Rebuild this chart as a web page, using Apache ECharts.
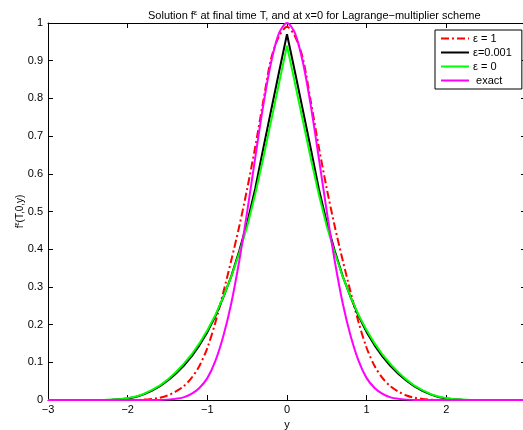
<!DOCTYPE html>
<html><head><meta charset="utf-8">
<script src="https://cdn.jsdelivr.net/npm/echarts@6/dist/echarts.min.js"></script>
<style>html,body{margin:0;padding:0;background:#fff}#c{width:523px;height:430px}</style>
</head><body><div id="c"></div>
<script>
const yGrid = [-3.0,-2.9,-2.8,-2.7,-2.6,-2.5,-2.4,-2.3,-2.2,-2.1,-2.0,-1.9,-1.8,-1.7,-1.6,-1.5,-1.4,-1.3,-1.2,-1.1,-1.0,-0.9,-0.8,-0.7,-0.6,-0.5,-0.4,-0.3,-0.2,-0.1,0,0.1,0.2,0.3,0.4,0.5,0.6,0.7,0.8,0.9,1.0,1.1,1.2,1.3,1.4,1.5,1.6,1.7,1.8,1.9,2.0,2.1,2.2,2.3,2.4,2.5,2.6,2.7,2.8,2.9,3.0];
const eps1 = [0,0,0,0,0,0,0,0,0,0,0,0,0.001,0.003,0.006,0.012,0.022,0.036,0.058,0.09,0.138,0.205,0.285,0.37,0.46,0.56,0.67,0.79,0.905,0.965,0.99,0.965,0.905,0.79,0.67,0.56,0.46,0.37,0.285,0.205,0.138,0.09,0.058,0.036,0.022,0.012,0.006,0.003,0.001,0,0,0,0,0,0,0,0,0,0,0,0];
const eps0001 = [0,0,0,0,0,0,0,0,0.0005,0.002,0.004,0.008,0.015,0.024,0.036,0.051,0.069,0.09,0.115,0.145,0.18,0.222,0.272,0.328,0.395,0.47,0.56,0.665,0.768,0.87,0.97,0.87,0.768,0.665,0.56,0.47,0.395,0.328,0.272,0.222,0.18,0.145,0.115,0.09,0.069,0.051,0.036,0.024,0.015,0.008,0.004,0.002,0.0005,0,0,0,0,0,0,0,0];
const eps0 = [0,0,0,0,0,0,0,0,0.001,0.002,0.005,0.009,0.016,0.026,0.038,0.054,0.073,0.095,0.12,0.15,0.185,0.225,0.273,0.327,0.39,0.46,0.545,0.64,0.74,0.84,0.94,0.84,0.74,0.64,0.545,0.46,0.39,0.327,0.273,0.225,0.185,0.15,0.12,0.095,0.073,0.054,0.038,0.026,0.016,0.009,0.005,0.002,0.001,0,0,0,0,0,0,0,0];
const exact = [0,0,0,0,0,0,0,0,0,0,0,0,0,0,0,0.001,0.003,0.007,0.016,0.032,0.058,0.103,0.169,0.256,0.368,0.499,0.641,0.779,0.895,0.973,1.0,0.973,0.895,0.779,0.641,0.499,0.368,0.256,0.169,0.103,0.058,0.032,0.016,0.007,0.003,0.001,0,0,0,0,0,0,0,0,0,0,0,0,0,0,0];
const seriesNames = ['ε = 1','ε=0.001','ε = 0',' exact'];

const FONT = 'Liberation Sans, Arial, Helvetica, sans-serif';
const pairs = arr => yGrid.map((x, i) => [x, arr[i]]);
const minus = v => String(v).replace('-', '\u2212');
const chart = echarts.init(document.getElementById('c'), null, {renderer: 'canvas'});
const axisCommon = {
  axisLine: {show: true, onZero: false, lineStyle: {color: '#000', width: 1}},
  axisTick: {show: true, inside: true, length: 5, lineStyle: {color: '#000'}},
  splitLine: {show: false}
};
chart.setOption({
  animation: false,
  backgroundColor: '#fff',
  textStyle: {fontFamily: FONT},
  title: {
    text: 'Solution f{s|ε} at final time T, and at x=0 for Lagrange\u2212multiplier scheme',
    left: 143, top: 4,
    textStyle: {fontSize: 11, fontWeight: 'normal', color: '#000', fontFamily: FONT,
      rich: {s: {fontSize: 8, verticalAlign: 'top', fontFamily: FONT, color: '#000', padding: [0,0,5,0]}}}
  },
  grid: {left: 48, top: 23, width: 478, height: 377, outerBoundsMode: 'none', containLabel: false},
  legend: {
    orient: 'vertical', left: 435, top: 30, width: 85,
    data: seriesNames,
    backgroundColor: '#fff', borderColor: '#000', borderWidth: 1,
    padding: [3, 10, 3, 5], itemWidth: 28, itemHeight: 12, itemGap: 3,
    itemStyle: {opacity: 0},
    textStyle: {fontSize: 11, color: '#000', fontFamily: FONT, padding: [0,0,0,-1]}
  },
  xAxis: [
    Object.assign({type: 'value', min: -3, max: 3, interval: 1, position: 'bottom',
      name: 'y', nameLocation: 'middle', nameGap: 18,
      nameTextStyle: {fontSize: 11, color: '#000', fontFamily: FONT},
      axisLabel: {fontSize: 11, color: '#000', margin: 4, formatter: minus, fontFamily: FONT,
        showMinLabel: true, showMaxLabel: true, hideOverlap: false}}, axisCommon),
    Object.assign({type: 'value', min: -3, max: 3, interval: 1, position: 'top',
      axisLabel: {show: false}}, axisCommon)
  ],
  yAxis: [
    Object.assign({type: 'value', min: 0, max: 1, interval: 0.1, position: 'left',
      name: '{a|f}{b|ε}{a|(T,0,y)}', nameLocation: 'middle', nameGap: 22, nameMoveOverlap: false,
      nameTextStyle: {color: '#000', fontFamily: FONT,
        rich: {a: {fontSize: 10, fontFamily: FONT, color: '#000'},
               b: {fontSize: 7, fontFamily: FONT, color: '#000', verticalAlign: 'top', padding: [0,0,5,0]}}},
      axisLabel: {fontSize: 11, color: '#000', margin: 5, fontFamily: FONT}}, axisCommon),
    Object.assign({type: 'value', min: 0, max: 1, interval: 0.1, position: 'right',
      axisLabel: {show: false}}, axisCommon)
  ],
  series: [
    {name: seriesNames[0], type: 'line', symbol: 'none', data: pairs(eps1), smooth: 0.3,
      lineStyle: {color: '#ff0000', width: 2, type: [8, 3, 2, 3]}, itemStyle: {color: '#ff0000'}},
    {name: seriesNames[1], type: 'line', symbol: 'none', data: pairs(eps0001),
      lineStyle: {color: '#000000', width: 2}, itemStyle: {color: '#000000'}},
    {name: seriesNames[2], type: 'line', symbol: 'none', data: pairs(eps0),
      lineStyle: {color: '#00ff00', width: 2}, itemStyle: {color: '#00ff00'}},
    {name: seriesNames[3], type: 'line', symbol: 'none', data: pairs(exact), smooth: 0.3,
      lineStyle: {color: '#ff00ff', width: 2}, itemStyle: {color: '#ff00ff'}}
  ]
});
</script></body></html>
